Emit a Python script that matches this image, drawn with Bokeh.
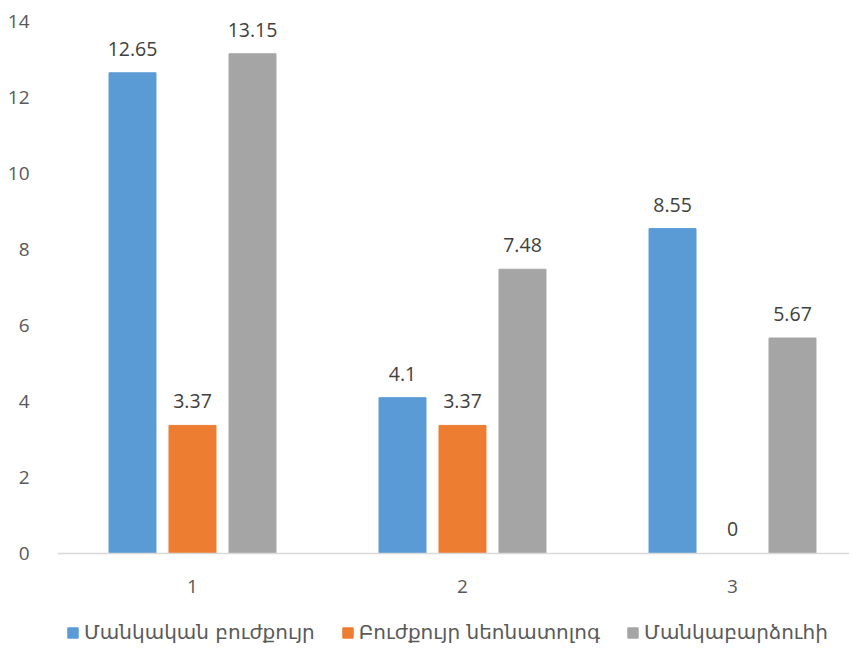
from bokeh.plotting import figure
from bokeh.models import ColumnDataSource, FixedTicker, Legend, LegendItem, Range1d, Span
from bokeh.core.properties import value
from bokeh.embed import file_html
from bokeh.resources import INLINE

categories = ["1", "2", "3"]
series_names = ["Մանկական բուժքույր", "Բուժքույր նեոնատոլոգ", "Մանկաբարձուհի"]
vals_a = [12.65, 4.1, 8.55]
vals_b = [3.37, 3.37, 0]
vals_c = [13.15, 7.48, 5.67]
colors = ["#5B9BD5", "#ED7D31", "#A5A5A5"]
y_ticks = [0, 2, 4, 6, 8, 10, 12, 14]

p = figure(width=849, height=644, output_backend="svg", toolbar_location=None,
           x_range=Range1d(0.5, 3.4333), y_range=Range1d(-2.395, 14.289),
           x_axis_location=None,
           min_border_left=57, min_border_right=0, min_border_top=10, min_border_bottom=0)
p.outline_line_color = None
p.grid.visible = False
p.background_fill_color = "white"

xs = [1, 2, 3]
p.add_layout(Span(location=0, dimension="width", line_color="#D9D9D9", line_width=1.5))
p.text(x=xs, y=[0, 0, 0], text=categories, text_align="center", text_baseline="middle",
       y_offset=33, text_font=value("Open Sans"), text_font_size="19px", text_color="#595959")

offsets = [-0.2222, 0.0, 0.2222]
series = [vals_a, vals_b, vals_c]
items = []
for name, vals, off, col in zip(series_names, series, offsets, colors):
    src = ColumnDataSource(dict(x=[x + off for x in xs], top=vals,
                                lbl=[("%g" % v) for v in vals]))
    r = p.vbar(x="x", top="top", width=0.174, source=src, fill_color=col, line_color=col)
    p.text(x="x", y="top", text="lbl", source=src, text_align="center",
           text_baseline="alphabetic", y_offset=-24, text_font=value("Open Sans"),
           text_font_size="19.5px", text_color="#404040")
    items.append(LegendItem(label=name, renderers=[r]))

ya = p.yaxis[0]
ya.ticker = FixedTicker(ticks=y_ticks)
ya.axis_line_color = None
ya.major_tick_line_color = None
ya.minor_tick_line_color = None
ya.major_label_standoff = 22
ya.major_label_text_font = "Open Sans"
ya.major_label_text_font_size = "19px"
ya.major_label_text_color = "#595959"

legend = Legend(items=items, orientation="horizontal", location=(9, 0),
                glyph_width=13, glyph_height=13, label_standoff=5, spacing=26,
                padding=0, margin=0, border_line_color=None, background_fill_alpha=0,
                label_text_font="DejaVu Sans", label_text_font_size="20px",
                label_text_color="#595959")
p.add_layout(legend, "center")

open("out.html", "w").write(file_html(p, INLINE))
